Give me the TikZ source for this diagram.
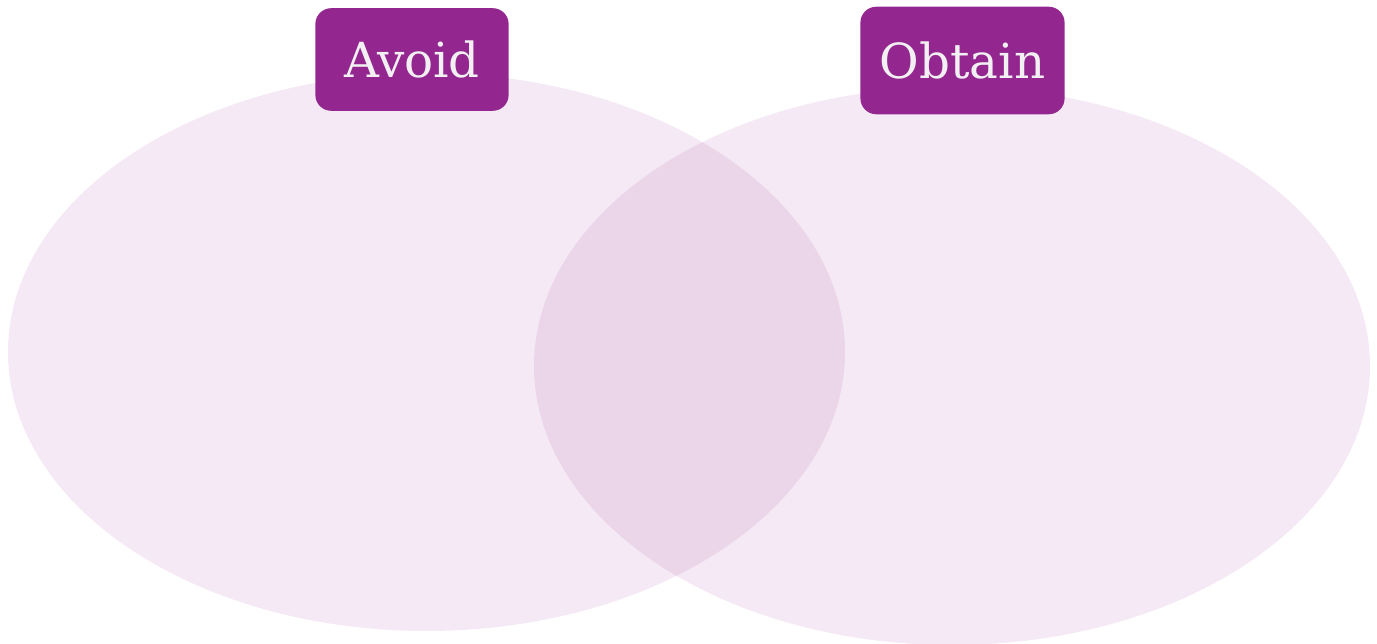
\documentclass[tikz,border=0pt]{standalone}
\usepackage{fontspec}
\setmainfont{DejaVu Serif}
\definecolor{venn}{HTML}{93278F}
\definecolor{labeltext}{HTML}{F2F0F2}
\tikzset{
  vennset/.style={fill=venn, fill opacity=0.1},
  setlabel/.style={fill=venn, rounded corners=9pt, text=labeltext,
    font=\fontsize{27.5}{31}\selectfont, inner sep=0pt, anchor=center}
}
\begin{document}
\begin{tikzpicture}[x=0.02cm, y=-0.02cm]
  %%%%% START %%%%%
  \useasboundingbox (0,0) rectangle (1377,644);

  % sets
  \fill[vennset] (426.5,352) ellipse [x radius=418.5, y radius=279];
  \fill[vennset] (952,366) ellipse [x radius=418, y radius=279];

  % labels
  \node[setlabel, minimum width=110pt, minimum height=58.4pt] (avoid) at (412,59.5) {Avoid};
  \node[setlabel, minimum width=116.2pt, minimum height=61.2pt] (obtain) at (962.5,60.5) {Obtain};
  %%%%% END %%%%%
\end{tikzpicture}
\end{document}
